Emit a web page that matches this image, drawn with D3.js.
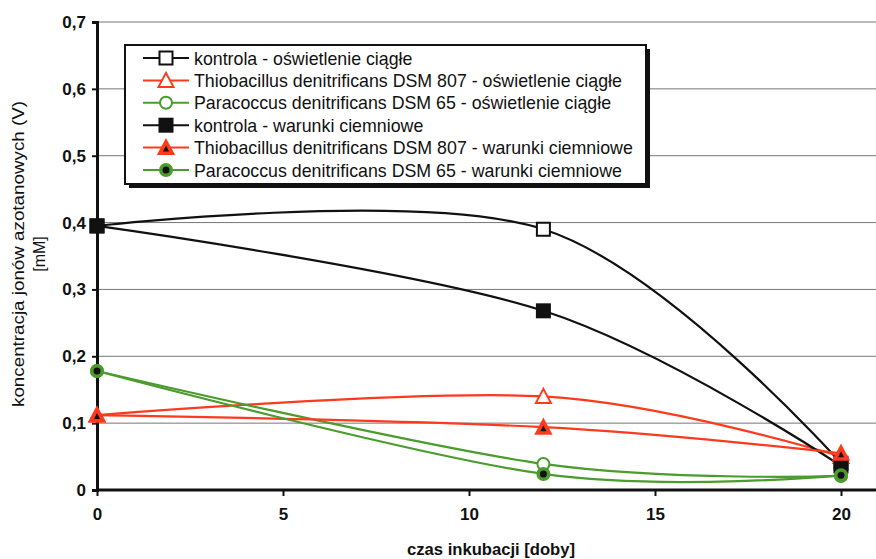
<!DOCTYPE html>
<html>
<head>
<meta charset="utf-8">
<script src="https://cdn.jsdelivr.net/npm/d3@7"></script>
<style>
  body { margin: 0; background: #fff; }
  svg { display: block; font-family: "Liberation Sans", Arial, sans-serif; }
</style>
</head>
<body>
<svg id="chart" width="876" height="559"></svg>
<script>
// Incubation days
const days = [0, 12, 20];

// Nitrate ion concentration [mM] per series
const kontrolaSwiatlo = [0.395, 0.390, 0.040];
const thiobacillusSwiatlo = [0.112, 0.140, 0.050];
const paracoccusSwiatlo = [0.178, 0.039, 0.021];
const kontrolaCiemno = [0.395, 0.268, 0.036];
const thiobacillusCiemno = [0.112, 0.094, 0.055];
const paracoccusCiemno = [0.178, 0.024, 0.022];

const seriesNames = [
  "kontrola - oświetlenie ciągłe",
  "Thiobacillus denitrificans DSM 807 - oświetlenie ciągłe",
  "Paracoccus denitrificans DSM 65 - oświetlenie ciągłe",
  "kontrola - warunki ciemniowe",
  "Thiobacillus denitrificans DSM 807 - warunki ciemniowe",
  "Paracoccus denitrificans DSM 65 - warunki ciemniowe"
];

const xTicks = [0, 5, 10, 15, 20];
const yTicks = [0, 0.1, 0.2, 0.3, 0.4, 0.5, 0.6, 0.7];

const BLACK = "#111", RED = "#ff3a1c", GREEN = "#4a9c2c";

const series = [
  { name: seriesNames[0], values: kontrolaSwiatlo, color: BLACK, marker: "square", filled: false },
  { name: seriesNames[1], values: thiobacillusSwiatlo, color: RED, marker: "triangle", filled: false },
  { name: seriesNames[2], values: paracoccusSwiatlo, color: GREEN, marker: "circle", filled: false },
  { name: seriesNames[3], values: kontrolaCiemno, color: BLACK, marker: "square", filled: true },
  { name: seriesNames[4], values: thiobacillusCiemno, color: RED, marker: "triangle", filled: true },
  { name: seriesNames[5], values: paracoccusCiemno, color: GREEN, marker: "circle", filled: true }
];

const svg = d3.select("#chart");
const plotLeft = 97, plotRight = 920, plotTop = 22, plotBottom = 490;

const x = d3.scaleLinear().domain([0, 20]).range([plotLeft, 841]);
const y = d3.scaleLinear().domain([0, 0.7]).range([plotBottom, plotTop]);

// Horizontal gridlines
svg.append("g").selectAll("line").data(yTicks.filter(d => d > 0)).join("line")
  .attr("x1", plotLeft).attr("x2", plotRight)
  .attr("y1", d => y(d)).attr("y2", d => y(d))
  .attr("stroke", "#777").attr("stroke-width", 1);

// Y axis
const yAxis = d3.axisLeft(y).tickValues(yTicks)
  .tickFormat(d => d === 0 ? "0" : d3.format(".1f")(d).replace(".", ","))
  .tickSize(5).tickPadding(6);
const gy = svg.append("g").attr("transform", `translate(${plotLeft},0)`).call(yAxis);
gy.select(".domain").attr("stroke", BLACK).attr("stroke-width", 3);
gy.selectAll(".tick line").attr("stroke", BLACK).attr("stroke-width", 2);
gy.selectAll("text").attr("font-size", 17).attr("font-weight", "bold").attr("fill", "#111");

// X axis
const xAxis = d3.axisBottom(x).tickValues(xTicks).tickSize(6).tickPadding(12);
const gx = svg.append("g").attr("transform", `translate(0,${plotBottom})`).call(xAxis);
gx.select(".domain").attr("d", `M${plotLeft},0H${plotRight}`).attr("stroke", BLACK).attr("stroke-width", 3);
gx.selectAll(".tick line").attr("stroke", BLACK).attr("stroke-width", 2);
gx.selectAll("text").attr("font-size", 17).attr("font-weight", "bold").attr("fill", "#111");

// Axis titles
svg.append("text").attr("x", 491).attr("y", 555).attr("text-anchor", "middle")
  .attr("font-size", 16).attr("font-weight", "bold").attr("fill", "#111")
  .attr("textLength", 168).attr("lengthAdjust", "spacingAndGlyphs")
  .text("czas inkubacji [doby]");
const yt = svg.append("text").attr("transform", "translate(0,254) rotate(-90)")
  .attr("text-anchor", "middle").attr("font-size", 16).attr("fill", "#111");
yt.append("tspan").attr("x", 0).attr("y", 24)
  .attr("textLength", 306).attr("lengthAdjust", "spacingAndGlyphs")
  .text("koncentracja jonów azotanowych (V)");
yt.append("tspan").attr("x", 0).attr("y", 45).text("[mM]");

// Smoothed series lines
const line = d3.line().x((d, i) => x(days[i])).y(d => y(d)).curve(d3.curveCardinal.tension(0));
svg.append("g").selectAll("path").data(series).join("path")
  .attr("d", s => line(s.values))
  .attr("fill", "none").attr("stroke", s => s.color).attr("stroke-width", 2.2);

function drawMarker(g, s, cx, cy) {
  if (s.marker === "square") {
    g.append("rect").attr("x", cx - 6.5).attr("y", cy - 6.5).attr("width", 13).attr("height", 13)
      .attr("fill", s.filled ? BLACK : "#fff").attr("stroke", BLACK).attr("stroke-width", 2);
  } else if (s.marker === "triangle") {
    const h = 13, w = 15;
    g.append("path")
      .attr("d", `M${cx},${cy - h / 2 - 1}L${cx + w / 2},${cy + h / 2}L${cx - w / 2},${cy + h / 2}Z`)
      .attr("fill", s.filled ? RED : "#fff").attr("stroke", RED).attr("stroke-width", 2);
    if (s.filled) {
      g.append("path").attr("d", `M${cx},${cy - 2}L${cx + 3},${cy + 4}L${cx - 3},${cy + 4}Z`).attr("fill", BLACK);
    }
  } else {
    g.append("circle").attr("cx", cx).attr("cy", cy).attr("r", 6)
      .attr("fill", s.filled ? GREEN : "#fff").attr("stroke", GREEN).attr("stroke-width", 2);
    if (s.filled) g.append("circle").attr("cx", cx).attr("cy", cy).attr("r", 3.5).attr("fill", BLACK);
  }
}

// Markers
const mg = svg.append("g");
series.forEach(s => s.values.forEach((v, i) => drawMarker(mg, s, x(days[i]), y(v))));

// Legend with drop shadow
const lg = svg.append("g");
const lx = 125, ly = 45, lw = 521, lh = 139;
lg.append("rect").attr("x", lx + 4).attr("y", ly + 4).attr("width", lw).attr("height", lh).attr("fill", BLACK);
lg.append("rect").attr("x", lx).attr("y", ly).attr("width", lw).attr("height", lh)
  .attr("fill", "#fff").attr("stroke", BLACK).attr("stroke-width", 2);
series.forEach((s, i) => {
  const ry = ly + 13 + i * 22.4;
  lg.append("line").attr("x1", lx + 18).attr("x2", lx + 64).attr("y1", ry).attr("y2", ry)
    .attr("stroke", s.color).attr("stroke-width", 2);
  drawMarker(lg, s, lx + 41, ry);
  lg.append("text").attr("x", lx + 69).attr("y", ry + 6.5).attr("font-size", 17.8).attr("fill", "#111").text(s.name);
});
</script>
</body>
</html>
